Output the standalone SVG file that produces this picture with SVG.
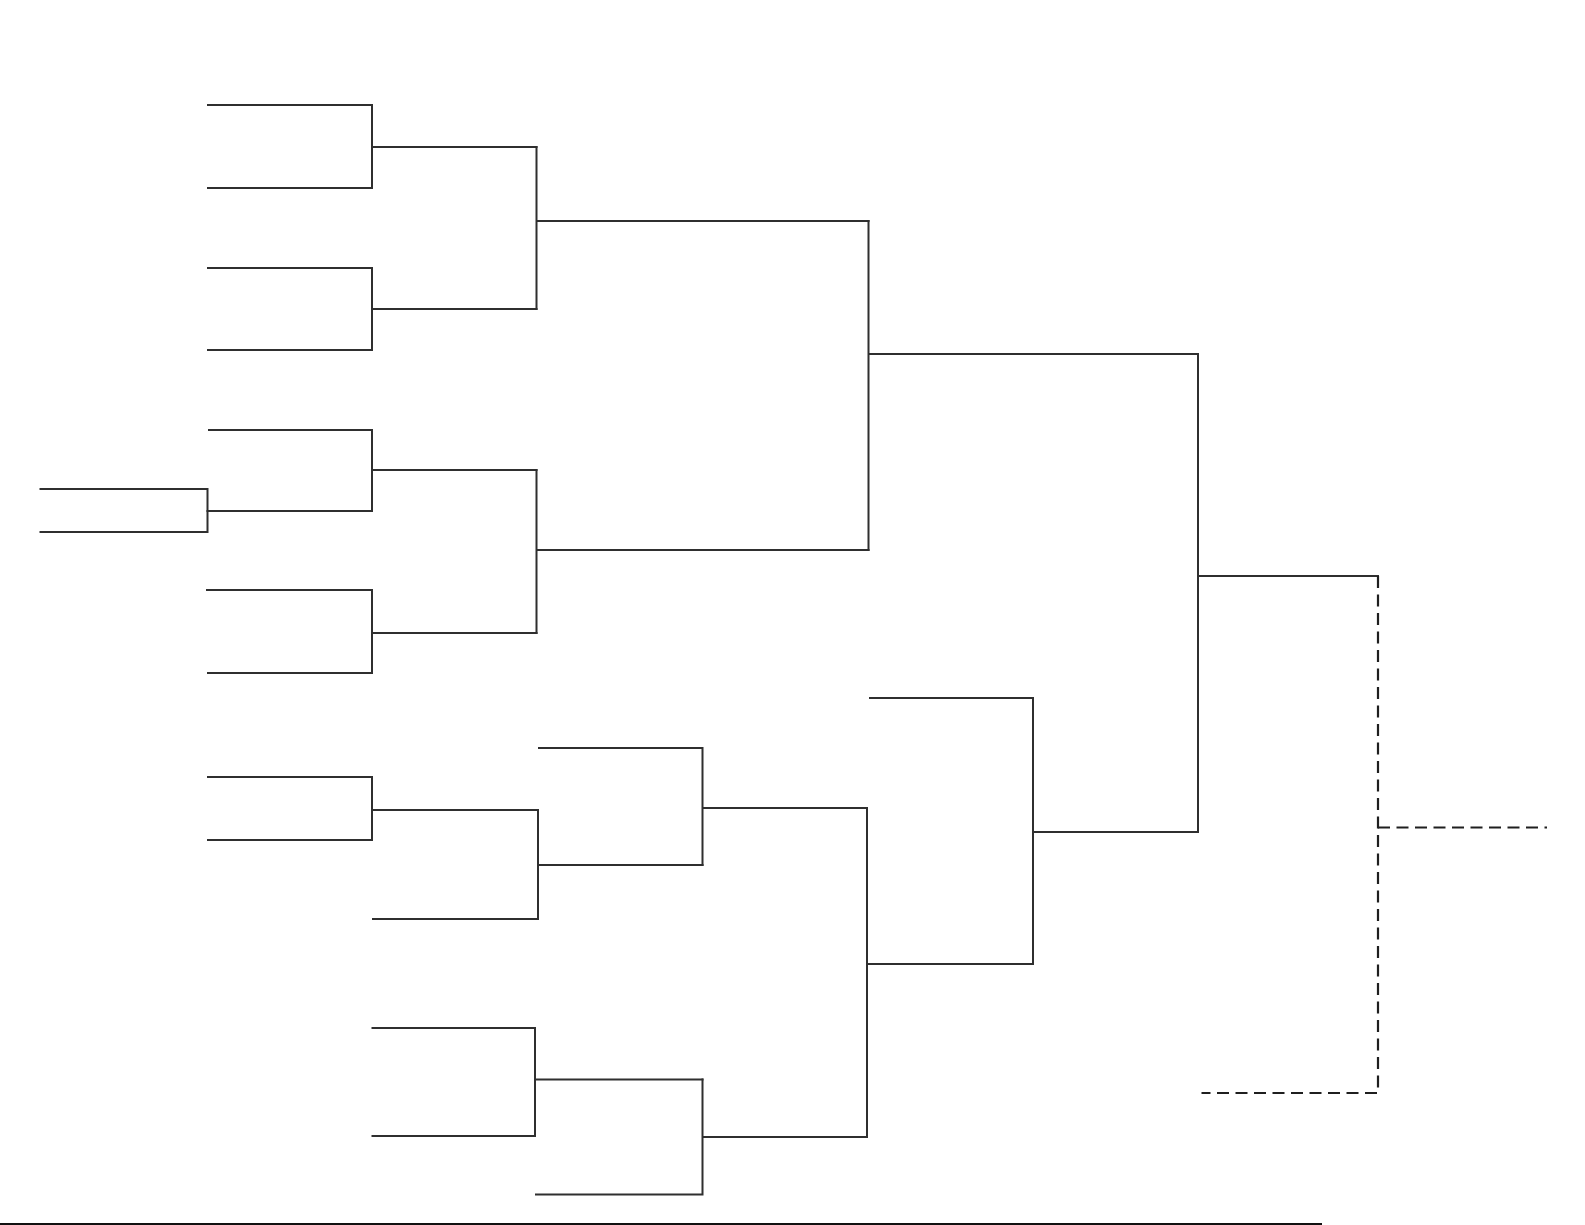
<svg xmlns="http://www.w3.org/2000/svg" width="1585" height="1225" viewBox="0 0 1585 1225">
<style>
.l{fill:none;stroke:#2f2f2f;stroke-width:2;stroke-linecap:square}
.d{fill:none;stroke:#1f1f1f;stroke-width:2.2;stroke-dasharray:12 6.5}
</style>
<rect width="1585" height="1225" fill="#ffffff"/>
<g id="r1-a"><path class="l" d="M208 105H372V188H208M372 147H536.5"/></g>
<g id="r1-b"><path class="l" d="M208 268H372V350H208M372 309H536.5"/></g>
<g id="r1-c"><path class="l" d="M209 430H372V511H207.5M372 470H536.5"/></g>
<g id="playin"><path class="l" d="M40.5 489H207.5V532H40.5"/></g>
<g id="r1-d"><path class="l" d="M207 590H372V673H208M372 633H536.5"/></g>
<g id="r2-top1"><path class="l" d="M536.5 147V309M536.5 221H868.5"/></g>
<g id="r2-top2"><path class="l" d="M536.5 470V633M536.5 550H868.5"/></g>
<g id="r3-top"><path class="l" d="M868.5 221V550M868.5 354H1198"/></g>
<g id="r1-e"><path class="l" d="M208 777H372V840H208M372 810H538"/></g>
<g id="r2-e"><path class="l" d="M373 919H538V810M538 865H702.5"/></g>
<g id="r3-e"><path class="l" d="M539 748H702.5V865M702.5 808H867"/></g>
<g id="r2-f"><path class="l" d="M372.5 1028H535V1136H372.5M535 1079.5H702.5"/></g>
<g id="r3-f"><path class="l" d="M536 1194.5H702.5V1079.5M702.5 1137H867"/></g>
<g id="r4-bottom"><path class="l" d="M867 808V1137M867 964H1033"/></g>
<g id="r5-bottom"><path class="l" d="M870 698H1033V964M1033 832H1198"/></g>
<g id="semi"><path class="l" d="M1198 354V832M1198 576H1378"/></g>
<g id="final"><path class="d" d="M1378 576V1093H1201.5"/><path class="d" d="M1378 827.5H1547"/></g>
<g id="connectors"></g>
<line x1="0" y1="1224" x2="1322" y2="1224" stroke="#111" stroke-width="2"/>
</svg>
